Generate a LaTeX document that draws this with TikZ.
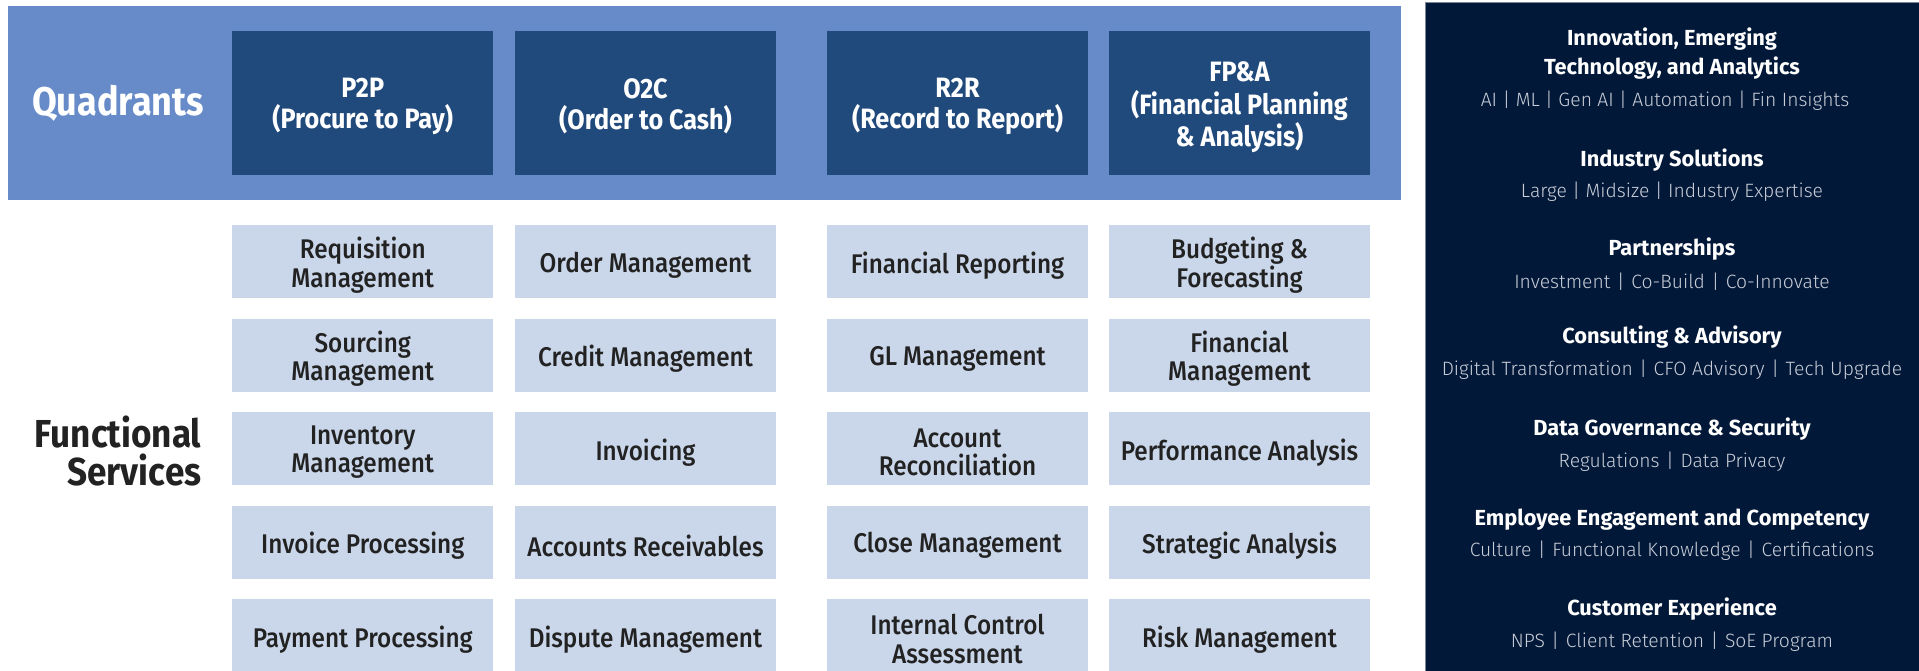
\documentclass[tikz,border=0pt]{standalone}
\usepackage{fontspec}
\setmainfont{Fira Sans}
\newfontfamily\condbold[FakeStretch=0.9]{Fira Sans}
\newfontfamily\condmed[FakeStretch=0.9]{Fira Sans Medium}
\newfontfamily\panelfont{Fira Sans}
\newfontfamily\panellight{Fira Sans Light}
\definecolor{bandblue}{HTML}{678BC8}
\definecolor{quadblue}{HTML}{214A7C}
\definecolor{funcblue}{HTML}{CAD7EA}
\definecolor{navy}{HTML}{021838}
\definecolor{navyedge}{HTML}{7D8797}
\definecolor{subgray}{HTML}{C9CED8}
\definecolor{inkdark}{HTML}{222222}
\newcommand{\wsep}{\hspace{0.34em}|\hspace{0.34em}}
% a filled tile (name, x, y, style) with its caption set a little lower
\newcommand{\tile}[6]{%
  \node[#4] (#1) at (#2,#3) {};
  \node[#5] (#1-text) at ([yshift=-3.7pt]#1.center) {#6};}
\begin{document}
\begin{tikzpicture}[x=1pt,y=-1pt,
  qbox/.style={fill=quadblue, minimum width=261pt, minimum height=144.5pt, inner sep=0pt},
  qtext/.style={inner sep=0pt, text=white, align=center,
    font=\condbold\bfseries\fontsize{28}{31.5}\selectfont},
  funcbox/.style={fill=funcblue, minimum width=261pt, minimum height=73pt, inner sep=0pt},
  functext/.style={inner sep=0pt, text=inkdark, align=center,
    font=\condmed\fontsize{27}{28.5}\selectfont},
  rowlabel/.style={inner sep=0pt, align=right,
    font=\condbold\bfseries\fontsize{39}{38}\selectfont},
  ptitle/.style={inner sep=0pt, text=white, align=center,
    font=\panelfont\bfseries\fontsize{21.8}{28.5}\selectfont},
  psub/.style={inner sep=0pt, text=subgray, align=center,
    font=\panellight\fontsize{19.3}{22}\selectfont}]
\clip (0,0) rectangle (1919,670);
\useasboundingbox (0,0) rectangle (1919,670);

% header band with the four quadrants
\fill[bandblue] (8,6) rectangle (1401,200);
\node[rowlabel, text=white, anchor=center, font=\condbold\bfseries\fontsize{40}{40}\selectfont] (quadlabel) at (118,103.7) {Quadrants};
\tile{p2p}{362.75}{102.8}{qbox}{qtext}{P2P\\(Procure to Pay)}
\tile{o2c}{645.5}{102.8}{qbox}{qtext}{O2C\\(Order to Cash)}
\tile{r2r}{957.5}{102.8}{qbox}{qtext}{R2R\\(Record to Report)}
\node[qbox] (fpa) at (1239.5,102.8) {};
\node[qtext, font=\condbold\bfseries\fontsize{28}{32.3}\selectfont] (fpa-text) at ([yshift=-4.6pt]fpa.center) {FP\&A\\(Financial Planning\\\& Analysis)};

% functional services grid
\node[rowlabel, text=inkdark, anchor=east] (funclabel) at (201.5,451) {Functional\\Services};

\tile{f11}{362.75}{261.5}{funcbox}{functext}{Requisition\\Management}
\tile{f21}{362.75}{355}{funcbox}{functext}{Sourcing\\Management}
\tile{f31}{362.75}{448.5}{funcbox}{functext}{Inventory\\Management}
\tile{f41}{362.75}{542}{funcbox}{functext}{Invoice Processing}
\tile{f51}{362.75}{635.5}{funcbox}{functext}{Payment Processing}

\tile{f12}{645.5}{261.5}{funcbox}{functext}{Order Management}
\tile{f22}{645.5}{355}{funcbox}{functext}{Credit Management}
\tile{f32}{645.5}{448.5}{funcbox}{functext}{Invoicing}
\tile{f42}{645.5}{542}{funcbox}{functext}{Accounts Receivables}
\tile{f52}{645.5}{635.5}{funcbox}{functext}{Dispute Management}

\tile{f13}{957.5}{261.5}{funcbox}{functext}{Financial Reporting}
\tile{f23}{957.5}{355}{funcbox}{functext}{GL Management}
\tile{f33}{957.5}{448.5}{funcbox}{functext}{Account\\Reconciliation}
\tile{f43}{957.5}{542}{funcbox}{functext}{Close Management}
\tile{f53}{957.5}{635.5}{funcbox}{functext}{Internal Control\\Assessment}

\tile{f14}{1239.5}{261.5}{funcbox}{functext}{Budgeting \&\\Forecasting}
\tile{f24}{1239.5}{355}{funcbox}{functext}{Financial\\Management}
\tile{f34}{1239.5}{448.5}{funcbox}{functext}{Performance Analysis}
\tile{f44}{1239.5}{542}{funcbox}{functext}{Strategic Analysis}
\tile{f54}{1239.5}{635.5}{funcbox}{functext}{Risk Management}

% enabler panel
\filldraw[fill=navy, draw=navyedge, line width=0.8pt] (1425.5,2.5) rectangle (1925,675);
\node[ptitle] (t1) at (1672,53.4) {Innovation, Emerging\\Technology, and Analytics};
\node[psub] (s1) at (1665,100.7) {AI | ML | Gen AI | Automation | Fin Insights};
\node[ptitle] (t2) at (1672,159.7) {Industry Solutions};
\node[psub] (s2) at (1672,192.2) {Large | Midsize | Industry Expertise};
\node[ptitle] (t3) at (1672,248.7) {Partnerships};
\node[psub] (s3) at (1672,281.7) {Investment\wsep Co-Build\wsep Co-Innovate};
\node[ptitle] (t4) at (1672,337.2) {Consulting \& Advisory};
\node[psub] (s4) at (1672,370.2) {Digital Transformation\wsep CFO Advisory\wsep Tech Upgrade};
\node[ptitle] (t5) at (1672,429.2) {Data Governance \& Security};
\node[psub] (s5) at (1672,462.2) {Regulations\wsep Data Privacy};
\node[ptitle] (t6) at (1672,519.2) {Employee Engagement and Competency};
\node[psub] (s6) at (1672,551.2) {Culture\wsep Functional Knowledge\wsep Certifications};
\node[ptitle] (t7) at (1672,608.7) {Customer Experience};
\node[psub] (s7) at (1672,641.7) {NPS\wsep Client Retention\wsep SoE Program};
\end{tikzpicture}
\end{document}
